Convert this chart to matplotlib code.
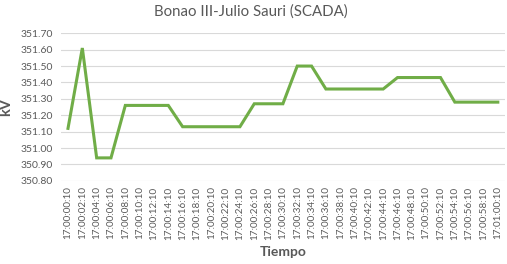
import matplotlib.pyplot as plt

# datos (kV cada 2 s)
tiempos = ["17:00:%02d:10" % s for s in range(0, 60, 2)] + ["17:01:00:10"]
kv = [351.12, 351.61, 350.94, 350.94, 351.26, 351.26, 351.26, 351.26,
      351.13, 351.13, 351.13, 351.13, 351.13, 351.27, 351.27, 351.27,
      351.50, 351.50, 351.36, 351.36, 351.36, 351.36, 351.36, 351.43,
      351.43, 351.43, 351.43, 351.28, 351.28, 351.28, 351.28]
y_ticks = [350.80, 350.90, 351.00, 351.10, 351.20, 351.30, 351.40, 351.50, 351.60, 351.70]

plt.rcParams["font.family"] = ["Lato", "DejaVu Sans"]

fig = plt.figure(figsize=(5.07, 2.64), dpi=100)
ax = fig.add_axes([0.120, 0.315, 0.876, 0.559])

x = range(len(tiempos))
ax.plot(x, kv, color="#70AD47", linewidth=2.2, solid_joinstyle="miter")

ax.set_xlim(-0.5, len(tiempos) - 0.5)
ax.set_ylim(350.80, 351.70)
ax.set_yticks(y_ticks)
ax.set_yticklabels(["%.2f" % v for v in y_ticks])
ax.set_xticks(list(x))
ax.set_xticklabels(tiempos, rotation=90)

ax.grid(axis="y", color="#D9D9D9", linewidth=0.8)
ax.set_axisbelow(True)
for s in ax.spines.values():
    s.set_visible(False)
ax.tick_params(axis="both", length=0, colors="#595959")
ax.tick_params(axis="y", labelsize=7.5, pad=6)
ax.tick_params(axis="x", labelsize=7.1, pad=4)

fig.text(0.495, 0.958, "Bonao III-Julio Sauri (SCADA)", fontsize=10.8,
         color="#595959", ha="center", va="center")
ax.set_ylabel("kV", fontsize=10.5, fontweight="bold", color="#595959", labelpad=5)
ax.set_xlabel("Tiempo", fontsize=10, fontweight="bold", color="#595959", labelpad=5)

fig.savefig("out.png", dpi=100)
